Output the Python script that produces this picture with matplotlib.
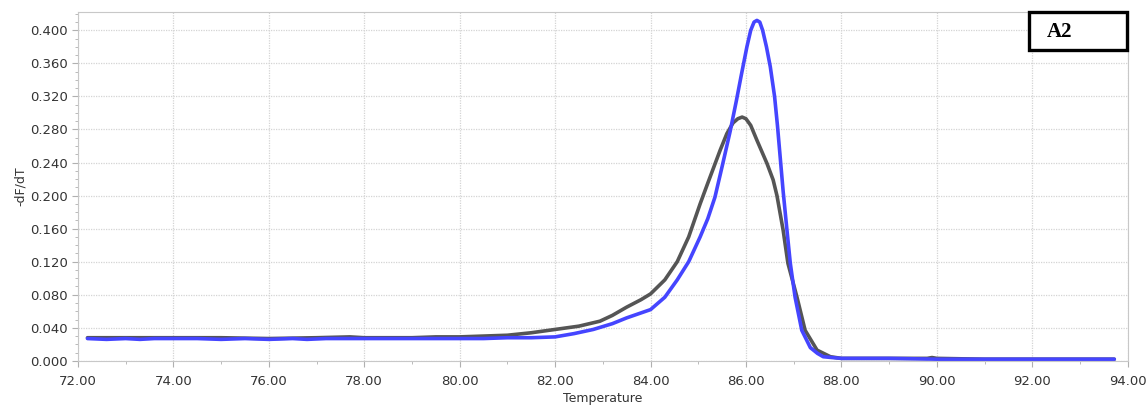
import numpy as np
import matplotlib
matplotlib.use("Agg")
import matplotlib.pyplot as plt
from matplotlib.patches import Rectangle
from matplotlib.ticker import MultipleLocator, FormatStrFormatter

# melt curve, sample 1 (blue)
blue_t = [72.2, 72.6, 73.0, 73.3, 73.6, 74.0, 74.5, 75.0, 75.5, 76.0, 76.5, 76.8,
          77.2, 77.8, 78.5, 79.0, 79.5, 80.0, 80.5, 81.0, 81.5, 82.0, 82.4, 82.8,
          83.2, 83.5, 83.8, 84.0, 84.3, 84.56, 84.8, 85.04, 85.2, 85.35, 85.5, 85.67,
          85.8, 85.9, 86.02, 86.1, 86.17, 86.23, 86.29, 86.35, 86.43, 86.51, 86.6,
          86.66, 86.72, 86.78, 86.86, 86.93, 87.03, 87.17, 87.35, 87.5, 87.62, 87.8,
          88.0, 89.0, 90.0, 91.0, 92.0, 93.0, 93.72]
blue_v = [0.027, 0.026, 0.027, 0.026, 0.027, 0.027, 0.027, 0.026, 0.027, 0.026, 0.027, 0.026,
          0.027, 0.027, 0.027, 0.027, 0.027, 0.027, 0.027, 0.028, 0.028, 0.029, 0.033, 0.038,
          0.045, 0.052, 0.058, 0.062, 0.077, 0.098, 0.120, 0.150, 0.172, 0.198, 0.235, 0.278,
          0.315, 0.345, 0.380, 0.400, 0.410, 0.412, 0.410, 0.400, 0.380, 0.356, 0.320,
          0.285, 0.245, 0.205, 0.158, 0.118, 0.077, 0.037, 0.016, 0.009, 0.005, 0.004,
          0.003, 0.003, 0.002, 0.002, 0.002, 0.002, 0.002]

# melt curve, sample 2 (grey)
grey_t = [72.2, 73.0, 74.0, 75.0, 76.0, 77.0, 77.7, 78.0, 79.0, 79.5, 80.0, 80.5,
          81.0, 81.5, 82.0, 82.5, 82.94, 83.2, 83.5, 83.8, 84.0, 84.3, 84.56, 84.8,
          85.04, 85.2, 85.46, 85.6, 85.73, 85.83, 85.92, 86.0, 86.1, 86.23, 86.44,
          86.57, 86.65, 86.78, 86.88, 87.07, 87.24, 87.49, 87.77, 88.0, 89.0, 89.8,
          89.9, 90.0, 91.0, 93.72]
grey_v = [0.028, 0.028, 0.028, 0.028, 0.027, 0.028, 0.029, 0.028, 0.028, 0.029, 0.029, 0.030,
          0.031, 0.034, 0.038, 0.042, 0.048, 0.055, 0.065, 0.074, 0.081, 0.098, 0.120, 0.150,
          0.190, 0.215, 0.255, 0.275, 0.288, 0.293, 0.295, 0.293, 0.285, 0.267, 0.239,
          0.219, 0.200, 0.158, 0.118, 0.077, 0.037, 0.013, 0.005, 0.003, 0.003, 0.003,
          0.004, 0.003, 0.002, 0.002]

fig = plt.figure(figsize=(11.46, 4.05), dpi=100)
ax = fig.add_axes([0.068, 0.109, 0.916, 0.861])

ax.plot(grey_t, grey_v, color="#555555", lw=2.6, solid_joinstyle="round", solid_capstyle="round")
ax.plot(blue_t, blue_v, color="#4545ff", lw=2.6, solid_joinstyle="round", solid_capstyle="round")

ax.set_xlim(72, 94)
ax.set_ylim(0, 0.422)
ax.xaxis.set_major_locator(MultipleLocator(2))
ax.xaxis.set_minor_locator(MultipleLocator(1))
ax.yaxis.set_major_locator(MultipleLocator(0.04))
ax.yaxis.set_minor_locator(MultipleLocator(0.01))
ax.xaxis.set_major_formatter(FormatStrFormatter("%.2f"))
ax.yaxis.set_major_formatter(FormatStrFormatter("%.3f"))

ax.grid(True, which="major", color="#d4d4d4", linestyle=(0, (1, 1)), lw=0.9)
for s in ax.spines.values():
    s.set_color("#c8c8c8")
ax.tick_params(which="major", length=4, color="#b0b0b0", labelsize=9.5, labelcolor="#333333")
ax.tick_params(axis="x", which="major", pad=6)
ax.tick_params(which="minor", length=2.5, color="#b0b0b0")

ax.set_xlabel("Temperature", fontsize=9, color="#333333", labelpad=3)
ax.set_ylabel("-dF/dT", fontsize=9, color="#333333", labelpad=2)

# label box in the top-right corner
fig.patches.append(Rectangle((0.898, 0.877), 0.0855, 0.094, transform=fig.transFigure,
                             fc="white", ec="black", lw=2.4, zorder=5))
fig.text(0.913, 0.922, "A2", ha="left", va="center", fontsize=15, fontweight="bold",
         family="Liberation Serif", zorder=6)

fig.savefig("out.png", dpi=100)
